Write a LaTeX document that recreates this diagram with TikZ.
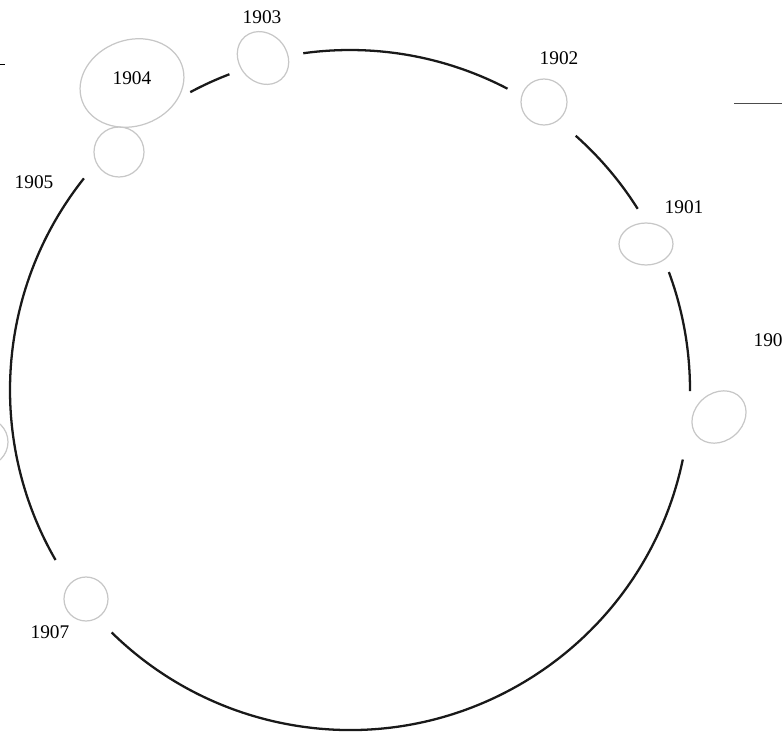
\documentclass[tikz,border=0pt]{standalone}
\usepackage{fontspec}
\setmainfont{Liberation Serif}
\usetikzlibrary{shapes.geometric}

\begin{document}
\begin{tikzpicture}[
        x=0.02cm, y=-0.02cm,
        year/.style={font=\fontsize{11}{13}\selectfont, inner sep=0pt},
        stop/.style={ellipse, draw=black!22, line width=0.7pt, inner sep=0pt},
        ring/.style={line width=1.3pt, black!90},
        rule/.style={line width=0.55pt}
    ]
    \useasboundingbox (0,0) rectangle (782,734);

    % centre of the ring
    \coordinate (c) at (350,390);

    % stops on the ring
    \node[stop, minimum width=1.16cm, minimum height=0.96cm, rotate=40] (s1900) at (719,417) {};
    \node[stop, minimum width=1.08cm, minimum height=0.84cm] (s1901) at (646,244) {};
    \node[stop, minimum width=0.92cm, minimum height=0.92cm] (s1902) at (544,102) {};
    \node[stop, minimum width=1.12cm, minimum height=0.96cm, rotate=-50] (s1903) at (263,58) {};
    \node[stop, minimum width=2.12cm, minimum height=1.72cm, rotate=20] (s1904) at (132,83) {};
    \node[stop, minimum width=1.0cm, minimum height=1.0cm] (s1905) at (119,152) {};
    \node[stop, minimum width=0.96cm, minimum height=0.96cm] (s1906) at (-16,442) {};
    \node[stop, minimum width=0.88cm, minimum height=0.88cm] (s1907) at (86,599) {};

    % years
    \node[year, anchor=east] (y1900) at (783,340) {190};
    \node[year] (y1901) at (684,207) {1901};
    \node[year] (y1902) at (559,58) {1902};
    \node[year] (y1903) at (262,17) {1903};
    \node[year] (y1904) at (132,78) {1904};
    \node[year] (y1905) at (34,182) {1905};
    \node[year] (y1907) at (50,632) {1907};

    % ring between the stops
    \draw[ring] (c) ++(-97.9:340) arc[start angle=-97.9, end angle=-62.4, radius=340];
    \draw[ring] (c) ++(-48.4:340) arc[start angle=-48.4, end angle=-32.2, radius=340];
    \draw[ring] (c) ++(-20.3:340) arc[start angle=-20.3, end angle=0.2, radius=340];
    \draw[ring] (c) ++(11.8:340) arc[start angle=11.8, end angle=134.5, radius=340];
    \draw[ring] (c) ++(150:340) arc[start angle=150, end angle=218.5, radius=340];
    \draw[ring] (c) ++(-118.2:338) arc[start angle=-118.2, end angle=-110.9, radius=338];

    % stray rules at the edges
    \coordinate (tl) at (0,64);
    \coordinate (tr) at (734,103);
    \draw[rule] (tl) -- ++(5,0);
    \draw[rule, black!70] (tr) -- ++(48,0);
\end{tikzpicture}
\end{document}
